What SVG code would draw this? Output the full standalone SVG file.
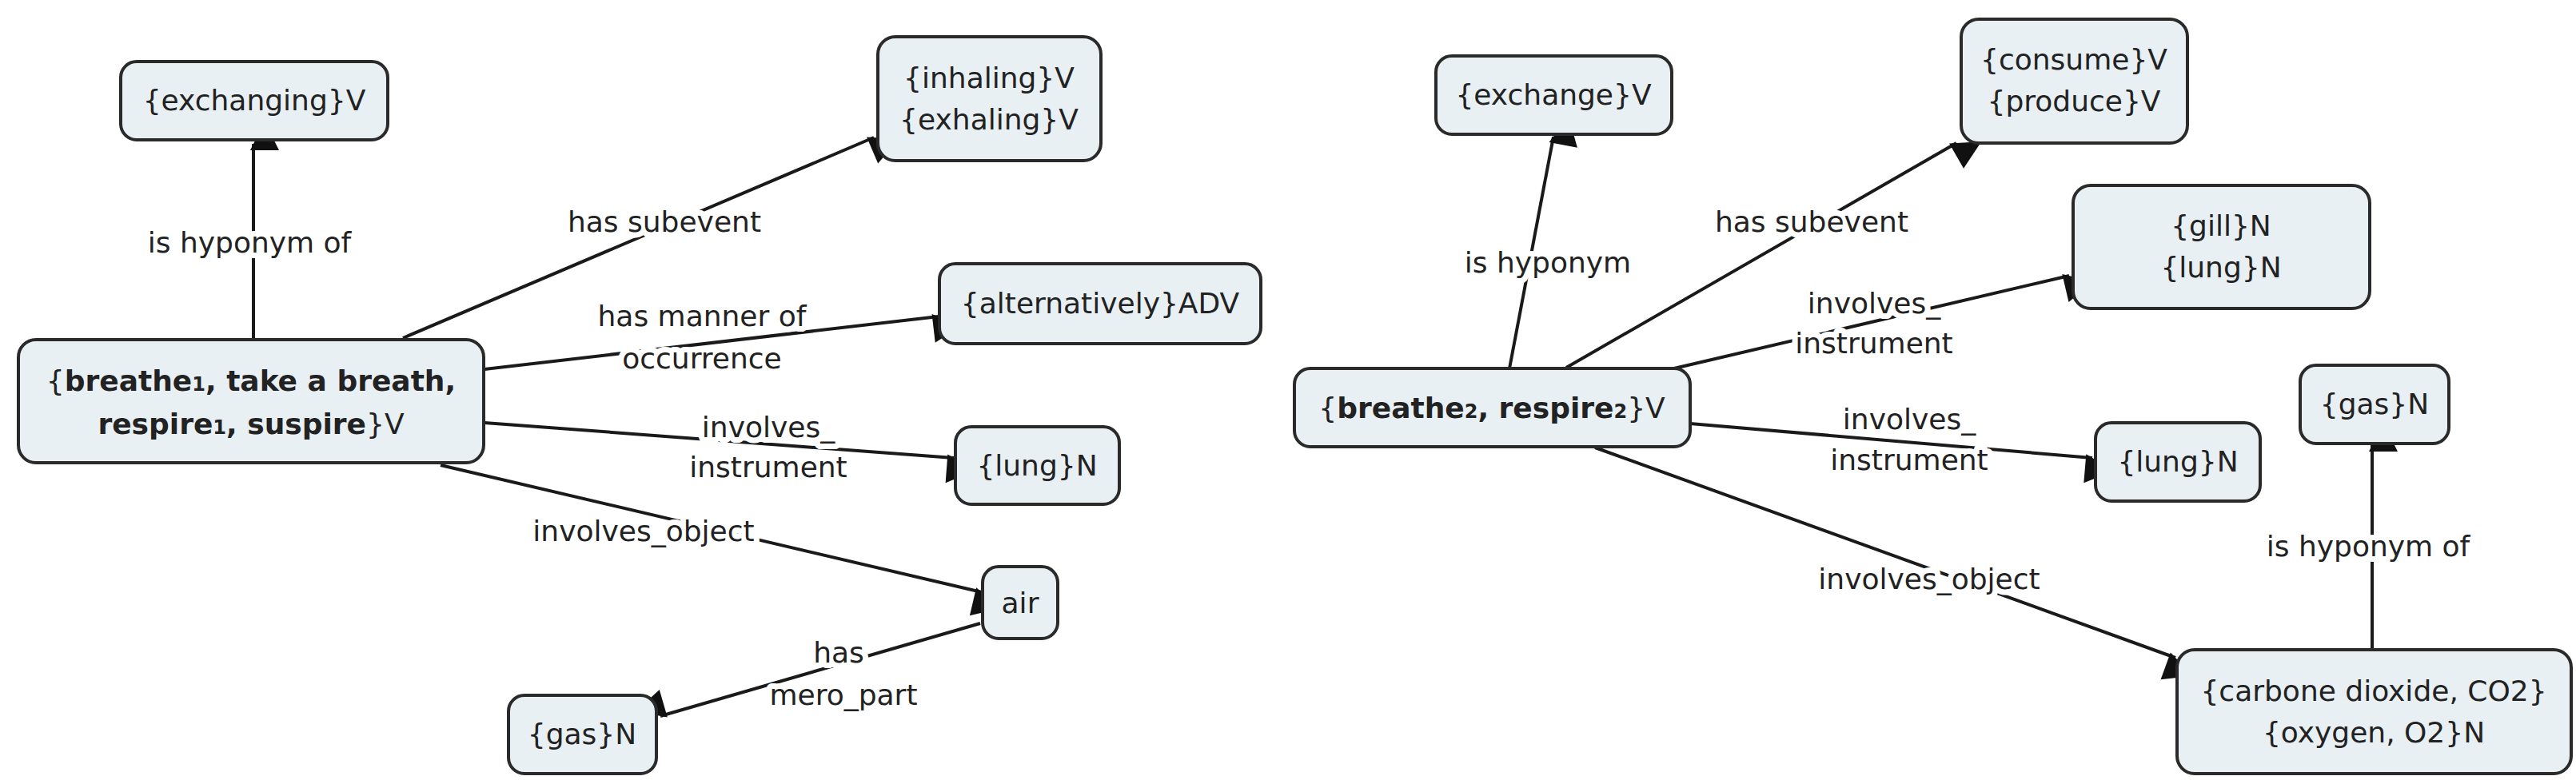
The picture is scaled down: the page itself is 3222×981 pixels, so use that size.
<svg xmlns="http://www.w3.org/2000/svg" width="3222" height="981" viewBox="0 0 3222 981">
<style>
.n rect{fill:#e8f0f4;stroke:#2a2a2a;stroke-width:4}
text{font-family:"DejaVu Sans","Liberation Sans",sans-serif;font-size:36px;fill:#222;text-anchor:middle}
.l{stroke:#fff;stroke-width:14px;paint-order:stroke;stroke-linejoin:round}
.c line{stroke:#1a1a1a;stroke-width:4}
.s{font-size:24px}
</style>
<defs><marker id="a" viewBox="0 0 10 10" refX="10" refY="5" markerWidth="8" markerHeight="8" markerUnits="userSpaceOnUse" orient="auto" style="overflow:visible"><path d="M0,0 L10,5 L0,10 z" fill="#111" transform="scale(4.5)" /></marker></defs>
<g class="c">
<line x1="317" y1="425" x2="317" y2="180" marker-end="url(#a)"/>
<line x1="504" y1="423" x2="1093" y2="172" marker-end="url(#a)"/>
<line x1="606" y1="462" x2="1174" y2="396" marker-end="url(#a)"/>
<line x1="606" y1="529" x2="1193" y2="573" marker-end="url(#a)"/>
<line x1="551" y1="582" x2="1228" y2="741" marker-end="url(#a)"/>
<line x1="1226" y1="780" x2="826" y2="896" marker-end="url(#a)"/>
<line x1="1888" y1="461" x2="1943" y2="171" marker-end="url(#a)"/>
<line x1="1959" y1="460" x2="2447" y2="179" marker-end="url(#a)"/>
<line x1="2094" y1="461" x2="2588" y2="345" marker-end="url(#a)"/>
<line x1="2114" y1="530" x2="2617" y2="573" marker-end="url(#a)"/>
<line x1="1995" y1="560" x2="2721" y2="823" marker-end="url(#a)"/>
<line x1="2967" y1="813" x2="2967" y2="557" marker-end="url(#a)"/>
<text class="l" x="312" y="316">is hyponym of</text>
<text class="l" x="831" y="290">has subevent</text>
<text class="l" x="878" y="408">has manner of</text>
<text class="l" x="878" y="461">occurrence</text>
<text class="l" x="961" y="547">involves_</text>
<text class="l" x="961" y="597">instrument</text>
<text class="l" x="805" y="677">involves_object</text>
<text class="l" x="1049" y="829">has</text>
<text class="l" x="1055" y="882">mero_part</text>
<text class="l" x="1936" y="341">is hyponym</text>
<text class="l" x="2266" y="290">has subevent</text>
<text class="l" x="2344" y="392">involves_</text>
<text class="l" x="2344" y="442">instrument</text>
<text class="l" x="2388" y="537">involves_</text>
<text class="l" x="2388" y="588">instrument</text>
<text class="l" x="2413" y="737">involves_object</text>
<text class="l" x="2962" y="696">is hyponym  of</text>
</g>
<g id="n1" class="n"><rect x="151" y="77" width="334" height="98" rx="20"/><text x="318" y="138">{exchanging}V</text></g>
<g id="n2" class="n"><rect x="1098" y="46" width="279" height="155" rx="22"/><text x="1237" y="110">{inhaling}V</text><text x="1237" y="162">{exhaling}V</text></g>
<g id="n3" class="n"><rect x="1175" y="330" width="402" height="100" rx="20"/><text x="1376" y="392">{alternatively}ADV</text></g>
<g id="n4" class="n"><rect x="23" y="425" width="582" height="154" rx="22"/><text x="314" y="489" font-size="38">{<tspan font-weight="bold">breathe<tspan class="s">1</tspan>, take a breath,</tspan></text><text x="314" y="543" font-size="38"><tspan font-weight="bold">respire<tspan class="s">1</tspan>, suspire</tspan>}V</text></g>
<g id="n5" class="n"><rect x="1195" y="534" width="205" height="97" rx="20"/><text x="1297" y="595">{lung}N</text></g>
<g id="n6" class="n"><rect x="1229" y="709" width="94" height="90" rx="20"/><text x="1276" y="767">air</text></g>
<g id="n7" class="n"><rect x="636" y="870" width="185" height="98" rx="20"/><text x="728" y="931">{gas}N</text></g>
<g id="n8" class="n"><rect x="1796" y="70" width="295" height="98" rx="20"/><text x="1943" y="131">{exchange}V</text></g>
<g id="n9" class="n"><rect x="2453" y="24" width="283" height="155" rx="22"/><text x="2594" y="87">{consume}V</text><text x="2594" y="139">{produce}V</text></g>
<g id="n10" class="n"><rect x="2593" y="232" width="371" height="154" rx="22"/><text x="2778" y="295">{gill}N</text><text x="2778" y="347">{lung}N</text></g>
<g id="n11" class="n"><rect x="1619" y="461" width="495" height="98" rx="20"/><text x="1866" y="523" font-size="38">{<tspan font-weight="bold">breathe<tspan class="s">2</tspan>, respire<tspan class="s">2</tspan></tspan>}V</text></g>
<g id="n12" class="n"><rect x="2621" y="529" width="206" height="98" rx="20"/><text x="2724" y="590">{lung}N</text></g>
<g id="n13" class="n"><rect x="2877" y="457" width="186" height="98" rx="20"/><text x="2970" y="518">{gas}N</text></g>
<g id="n14" class="n"><rect x="2723" y="813" width="493" height="155" rx="22"/><text x="2969" y="877">{carbone dioxide, CO2}</text><text x="2969" y="929">{oxygen, O2}N</text></g>
</svg>
